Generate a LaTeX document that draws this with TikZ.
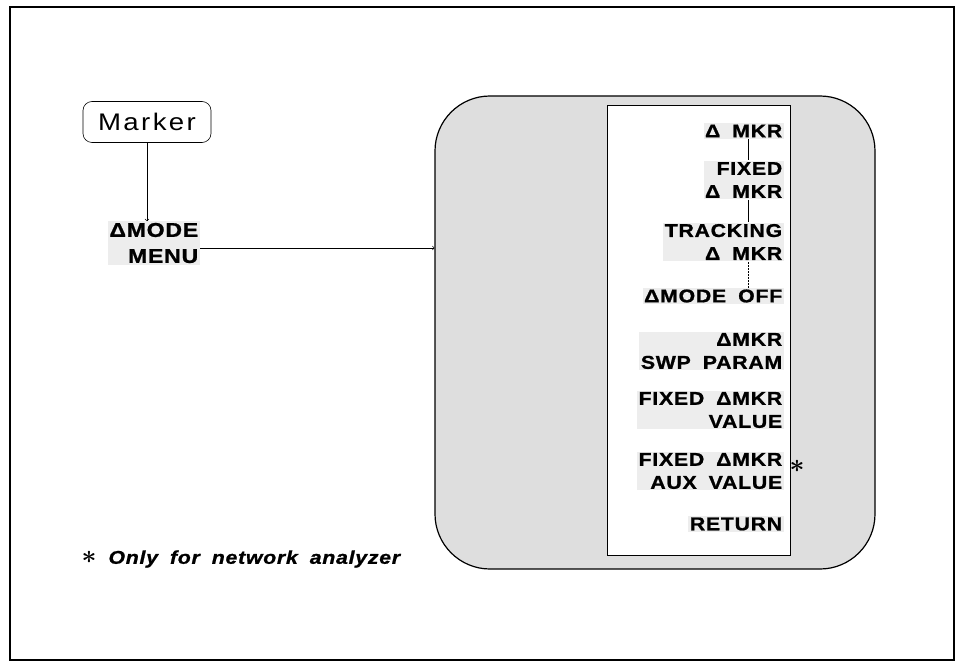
\documentclass[tikz,border=0pt]{standalone}
\usepackage{fontspec}
\usepackage{graphicx}
\setmainfont{Liberation Sans}
\newfontfamily\keyfont[LetterSpace=4,WordSpace=1.8,FakeStretch=1.15,
  BoldFeatures={FakeBold=1}, BoldItalicFeatures={FakeBold=1}]{Liberation Sans}
\newcommand{\footstar}{\scalebox{1.5}{$\ast$}}
\begin{document}
\begin{tikzpicture}[x=1pt, y=-1pt, line width=0.6pt,
    softkey/.style={anchor=east, align=right, fill=black!7, inner sep=1.5pt,
      font=\keyfont\bfseries\fontsize{18.5}{23}\selectfont},
    link/.style={line width=0.5pt}]
  \useasboundingbox (0,0) rectangle (958,663);
  \draw[line width=1.2pt] (10,7) rectangle (954,660);

  \node[draw, rounded corners=9pt, minimum width=128pt, minimum height=41pt,
    font=\keyfont\addfontfeature{LetterSpace=10}\fontsize{24}{28}\selectfont] (marker) at (147,122) {Marker};
  \node[softkey, font=\keyfont\bfseries\fontsize{20}{26}\selectfont] (modemenu) at (200,243) {ΔMODE\\MENU};

  \node[draw, line width=1.2pt, rounded corners=55pt, fill=black!13,
    minimum width=440pt, minimum height=473pt] (panel) at (655,332.5) {};
  \node[draw, fill=white, minimum width=183pt, minimum height=450pt] (keys) at (698.5,330) {};

  \node[softkey] (mkr) at (784,131) {Δ MKR};
  \node[softkey] (fixed) at (784,180) {FIXED\\Δ MKR};
  \node[softkey] (track) at (784,242) {TRACKING\\Δ MKR};
  \node[softkey] (off) at (784,296) {ΔMODE OFF};
  \node[softkey] (swp) at (784,351) {ΔMKR\\SWP PARAM};
  \node[softkey] (fval) at (784,410) {FIXED ΔMKR\\VALUE};
  \node[softkey] (aux) at (784,471) {FIXED ΔMKR\\AUX VALUE};
  \node[softkey] (ret) at (784,524) {RETURN};
  \node[font=\boldmath\fontsize{18.5}{20}\selectfont] (auxstar) at (797,466) {\footstar};

  \node[anchor=west, font=\boldmath\keyfont\bfseries\itshape\fontsize{18.5}{22}\selectfont] (note) at (78,559) {\footstar\ Only for network analyzer};

  \coordinate (tick) at (748,0);
  \draw[link] (mkr.south -| tick) -- (fixed.north -| tick);
  \draw[link] (fixed.south -| tick) -- (track.north -| tick);
  \draw[link, densely dotted] (track.south -| tick) -- (off.north -| tick);

  \draw[->] (marker) -- (marker |- modemenu.north);
  \draw[->] ([yshift=-5pt]modemenu.east) -- ([yshift=-5pt]modemenu.east -| panel.west);
\end{tikzpicture}
\end{document}
